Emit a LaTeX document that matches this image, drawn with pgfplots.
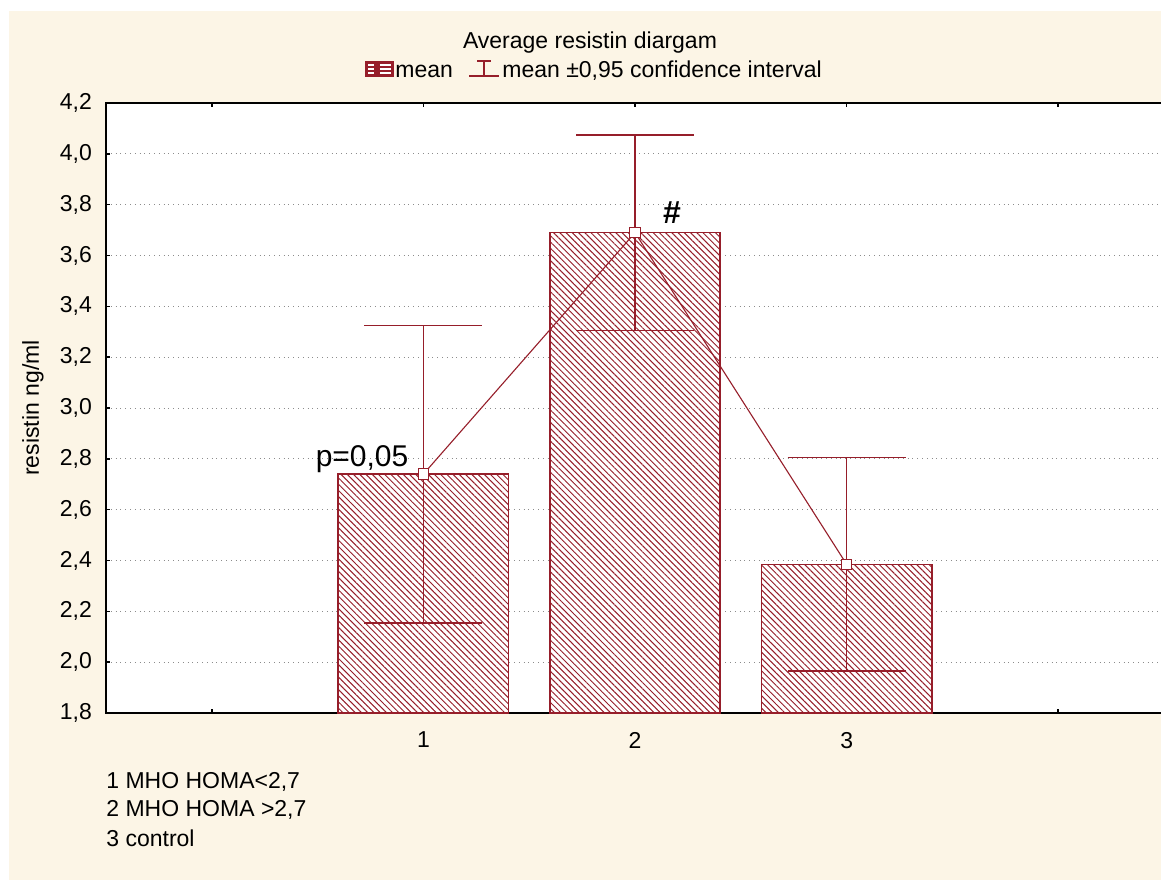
\documentclass[border=0pt]{standalone}
\usepackage{pgfplots}
\pgfplotsset{compat=1.18}
\usepackage{fontspec}
\setmainfont{Liberation Sans}
\usetikzlibrary{patterns.meta}
\definecolor{dred}{RGB}{150,30,42}
\definecolor{cream}{RGB}{252,245,230}
\newcommand\fs{\fontsize{11.5}{13.5}\selectfont}
\begin{document}
\begin{tikzpicture}
\path[use as bounding box] (-53pt,51.5pt) rectangle (527.5pt,-388.5pt);
\clip (-53pt,51.5pt) rectangle (527.5pt,-388.5pt);
\begin{scope}[x=0.5pt,y=-0.5pt,shift={(-106,-103)}]
 \fill[white] (0,0) rectangle (1161,880);
 \fill[cream] (9,11) rectangle (1161,880);
 \node[inner sep=0] at (590,43) {\fs Average resistin diargam};
 % legend
 \fill[dred] (365,61) rectangle (394,77);
 \foreach \yy in {65,69,73} {
   \draw[white,line width=0.8pt] (368,\yy) -- (374,\yy);
   \draw[white,line width=0.8pt] (380,\yy) -- (391,\yy);
 }
 \node[anchor=west,inner sep=0] at (395,71) {\fs mean};
 \draw[dred,line width=0.7pt] (484,61) -- (484,76);
 \draw[dred,line width=0.7pt] (477,61) -- (491,61);
 \draw[dred,line width=0.7pt] (469,76) -- (499,76);
 \node[anchor=west,inner sep=0] at (502,71) {\fs mean ±0,95 confidence interval};
 % y label
 \node[rotate=90,inner sep=0] at (33,408) {\fs resistin ng/ml};
 % footnotes
 \node[anchor=west,inner sep=0] at (106,782) {\fs 1 MHO HOMA<2,7};
 \node[anchor=west,inner sep=0] at (106,810) {\fs 2 MHO HOMA >2,7};
 \node[anchor=west,inner sep=0] at (106,838) {\fs 3 control};
\end{scope}
\begin{axis}[
  at={(0pt,0pt)}, anchor=north west,
  scale only axis, width=532pt, height=305pt,
  xmin=-0.5, xmax=4.528, ymin=1.8, ymax=4.2,
  xtick={0,1,2,3,4}, xticklabels={,1,2,3,},
  ytick={1.8,2.0,2.2,2.4,2.6,2.8,3.0,3.2,3.4,3.6,3.8,4.0,4.2},
  yticklabel style={/pgf/number format/use comma, /pgf/number format/fixed,
    /pgf/number format/fixed zerofill, /pgf/number format/precision=1, xshift=-3.5pt},
  /pgf/number format/assume math mode=true,
  ticklabel style={font=\fs},
  xticklabel style={yshift=-6pt},
  tick align=inside, xtick pos=both, ytick pos=left,
  major tick length=2pt,
  tick style={black, line width=0.8pt},
  axis line style={line width=1pt},
  ymajorgrids, grid style={black!45, dotted, line width=0.5pt},
  axis background/.style={fill=white},
]
\addplot[ybar, bar width=0.805, draw=dred, line width=0.8pt, fill=white,
  postaction={pattern={Lines[angle=-45,distance=2.2pt,line width=0.5pt]}, pattern color=dred}]
  coordinates {(1,2.74) (2,3.69) (3,2.385)};
\addplot[dred, line width=0.55pt, mark=square*, mark size=2.6pt,
  mark options={fill=white, draw=dred, solid, line width=0.6pt},
  error bars/.cd, y dir=both, y explicit,
  error bar style={line width=0.75pt, dred},
  error mark options={dred, mark size=29.5pt, line width=0.75pt, rotate=90}]
  coordinates {(1,2.74) +- (0,0.585) (2,3.69) +- (0,0.385) (3,2.385) +- (0,0.42)};
\node[inner sep=0, font=\fontsize{15}{18}\selectfont] at (axis cs:0.71,2.80) {p=0,05};
\node[inner sep=0, font=\fontsize{16}{19}\selectfont\bfseries] at (axis cs:2.175,3.77) {\#};
\end{axis}
\end{tikzpicture}
\end{document}
